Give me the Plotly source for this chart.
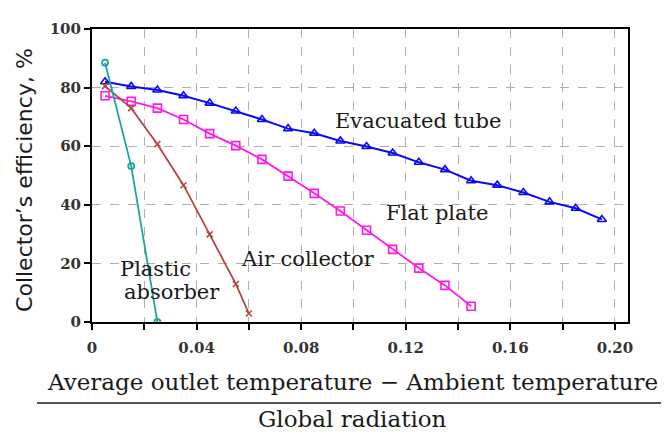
import plotly.graph_objects as go

# ---- data ----
evac_x = [0.005, 0.015, 0.025, 0.035, 0.045, 0.055, 0.065, 0.075, 0.085, 0.095,
          0.105, 0.115, 0.125, 0.135, 0.145, 0.155, 0.165, 0.175, 0.185, 0.195]
evac_y = [82.0, 80.4, 79.2, 77.2, 74.7, 72.0, 69.1, 66.0, 64.4, 61.8,
          59.9, 57.7, 54.5, 52.0, 48.2, 46.7, 44.2, 41.0, 38.8, 35.0]

flat_x = [0.005, 0.015, 0.025, 0.035, 0.045, 0.055, 0.065, 0.075, 0.085, 0.095,
          0.105, 0.115, 0.125, 0.135, 0.145]
flat_y = [77.2, 75.3, 73.0, 69.1, 64.3, 60.2, 55.5, 49.8, 43.9, 37.9,
          31.3, 24.8, 18.4, 12.5, 5.4]

air_x = [0.005, 0.015, 0.025, 0.035, 0.045, 0.055, 0.060]
air_y = [80.5, 73.0, 60.7, 46.7, 29.9, 13.0, 2.9]

plastic_x = [0.005, 0.015, 0.025]
plastic_y = [88.5, 53.2, 0.0]

x_tickvals = [0.0, 0.02, 0.04, 0.06, 0.08, 0.10, 0.12, 0.14, 0.16, 0.18, 0.20]
x_ticktext = ["0", "", "0.04", "", "0.08", "", "0.12", "", "0.16", "", "0.20"]
y_tickvals = [0, 20, 40, 60, 80, 100]

SERIF = "DejaVu Serif"

fig = go.Figure()
fig.add_trace(go.Scatter(x=evac_x, y=evac_y, mode="lines+markers",
                         line=dict(color="#0a0af5", width=2),
                         marker=dict(symbol="triangle-up-open", size=8, color="#0a0af5",
                                     line=dict(width=1.6))))
fig.add_trace(go.Scatter(x=flat_x, y=flat_y, mode="lines+markers",
                         line=dict(color="#ff1ae8", width=1.8),
                         marker=dict(symbol="square-open", size=8, color="#ff1ae8",
                                     line=dict(width=1.6))))
fig.add_trace(go.Scatter(x=air_x, y=air_y, mode="lines+markers",
                         line=dict(color="#b5463e", width=1.8),
                         marker=dict(symbol="x-thin", size=6, color="#b5463e",
                                     line=dict(width=1.5, color="#b5463e"))))
fig.add_trace(go.Scatter(x=plastic_x, y=plastic_y, mode="lines+markers",
                         line=dict(color="#1fa3a0", width=1.8),
                         marker=dict(symbol="circle-open", size=6, color="#1fa3a0",
                                     line=dict(width=1.8))))

# page has an 8px body margin; figure placed at (8, 8)
OFF = 8
W, H = 669 - OFF, 433 - OFF
L, T = 92 - OFF, 25 - OFF
R = W - (628 - OFF)
B = H - (322 - OFF)
pw, ph = W - L - R, H - T - B


def px(xp):  # page pixel x -> paper
    return (xp - OFF - L) / pw


def py(yp):  # page pixel y -> paper
    return (H - B - (yp - OFF)) / ph


lab = dict(family=SERIF, size=21, color="#1a1a1a")
annots = [
    dict(text="Evacuated tube", x=0.1245, y=68.5, xanchor="center", yanchor="middle"),
    dict(text="Flat plate", x=0.1318, y=37.2, xanchor="center", yanchor="middle"),
    dict(text="Air collector", x=0.0825, y=21.5, xanchor="center", yanchor="middle"),
    dict(text="Plastic", x=0.0098, y=18.0, xanchor="left", yanchor="middle"),
    dict(text="absorber", x=0.0115, y=10.3, xanchor="left", yanchor="middle"),
]
for a in annots:
    a.update(xref="x", yref="y", showarrow=False, font=lab)

big = dict(family=SERIF, size=23, color="#1a1a1a")
annots += [
    dict(text="Average outlet temperature \u2212 Ambient temperature", xref="paper", yref="paper",
         x=px(352), y=py(383), xanchor="center", yanchor="middle", showarrow=False, font=big),
    dict(text="Global radiation", xref="paper", yref="paper",
         x=px(352), y=py(420), xanchor="center", yanchor="middle", showarrow=False, font=big),
    dict(text="Collector\u2019s efficiency, %", xref="paper", yref="paper", textangle=-90,
         x=px(25), y=py(178), xanchor="center", yanchor="middle", showarrow=False,
         font=dict(family="DejaVu Sans", size=22, color="#1a1a1a")),
]

fig.update_layout(
    width=W, height=H, margin=dict(l=L, r=R, t=T, b=B),
    paper_bgcolor="white", plot_bgcolor="white", showlegend=False,
    annotations=annots,
    shapes=[dict(type="line", xref="paper", yref="paper",
                 x0=px(37), x1=px(667), y0=py(404), y1=py(404),
                 line=dict(color="#1a1a1a", width=1.5))],
)
fig.update_xaxes(range=[0, 0.205], tickvals=x_tickvals, ticktext=x_ticktext,
                 showline=True, linecolor="black", linewidth=2, mirror=True,
                 ticks="outside", ticklen=6, tickwidth=2, tickcolor="black",
                 ticklabelstandoff=5,
                 showgrid=True, gridcolor="#b0b0b0", gridwidth=1.2, griddash="dash",
                 zeroline=False,
                 tickfont=dict(family=SERIF, size=15, color="#333", weight="bold"))
fig.update_yaxes(range=[0, 100], tickvals=y_tickvals,
                 showline=True, linecolor="black", linewidth=2, mirror=True,
                 ticks="outside", ticklen=6, tickwidth=2, tickcolor="black",
                 showgrid=True, gridcolor="#b0b0b0", gridwidth=1.2, griddash="dash",
                 zeroline=False,
                 tickfont=dict(family=SERIF, size=15, color="#333", weight="bold"))

fig.write_html("out.html")
